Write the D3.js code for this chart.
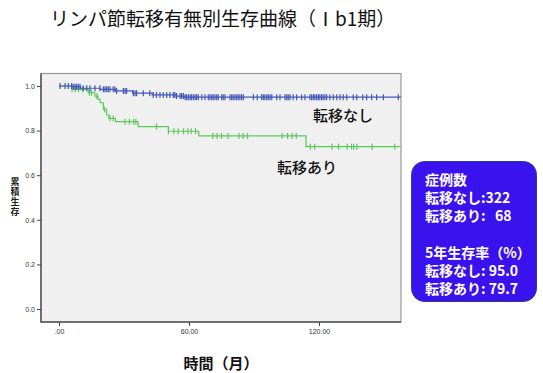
<!DOCTYPE html>
<html>
<head>
<meta charset="utf-8">
<script src="https://cdn.jsdelivr.net/npm/d3@7"></script>
<style>
  body { margin: 0; background: #fff; }
  text { font-family: "Noto Sans CJK JP", "Noto Sans", sans-serif; }
  .tick text { font-family: "Liberation Sans", Arial, sans-serif; font-size: 7px; fill: #333; }
</style>
</head>
<body>
<div id="chart"></div>
<script>
// step times (months) and survival after each drop
const noMetTimes = [6, 10, 19, 26, 34, 43, 54, 58];
const noMetSurv  = [0.997, 0.99, 0.985, 0.978, 0.968, 0.96, 0.955, 0.95];
const metTimes = [6, 13.5, 16.5, 18, 19, 20.5, 22, 23, 26, 36.5, 50.5, 64.5, 114];
const metSurv  = [0.985, 0.97, 0.955, 0.94, 0.925, 0.895, 0.87, 0.855, 0.84, 0.818, 0.797, 0.776, 0.728];

// censored observations (months)
const noMetCensor = [0.5, 2.8, 4.3, 5.8, 6.6, 7.4, 8.1, 8.9, 9.7, 11.2, 12.8, 14.3, 16.6, 18.9, 20.5, 21.2,
  22, 22.7, 23.5, 25, 25.8, 26.6, 29.7, 30.5, 31.2, 34.3, 35.1, 35.8, 38.9, 41.9, 43.5, 45, 46.6, 48.1,
  49.7, 51.2, 52.8, 53.5, 54.3, 55.9, 56.6, 57.4, 58.2, 58.9, 59.7, 60.5, 61.2, 62, 62.8, 63.5, 64.3,
  65.9, 67.4, 68.9, 69.7, 70.5, 71.2, 72, 72.8, 73.5, 75.1, 75.8, 76.6, 78.9, 79.7, 80.4, 81.2, 82, 82.7,
  83.5, 84.3, 85.1, 89.7, 91.5, 93.5, 94.3, 95, 95.9, 96.6, 97.4, 98.2, 100.5, 102, 104.3, 105.1, 105.8,
  106.6, 108.1, 109.7, 112, 113.5, 115.8, 116.6, 117.4, 118.1, 118.9, 119.7, 120.4, 121.2, 121.9, 122.7,
  123.5, 125, 126.6, 128.2, 129.7, 131.2, 132.8, 135.8, 137.4, 140.2, 142, 144.3, 146.6, 149.7, 156.6];
const metCensor = [6, 7.5, 9, 11, 14, 15, 17.5, 21, 23.5, 25, 30.5, 32.5, 34.5, 35.5, 45, 50.5, 53, 55,
  57.5, 59.5, 61, 63, 71, 73, 75, 78, 83, 85, 87, 103, 105.5, 107.5, 109.5, 116, 118, 126, 129, 133,
  135, 136, 137.5, 144.5, 155];

const yTicks = [0, 0.2, 0.4, 0.6, 0.8, 1.0];
const xTicks = [0, 60, 120];
const boxLines = ["症例数", "転移なし:322", "転移あり:\u00a0\u00a0 68", "", "5年生存率（%）", "転移なし: 95.0", "転移あり: 79.7"];

const width = 543, height = 373;
const frame = { left: 41, right: 401, top: 73.5, bottom: 322 };

const svg = d3.select("#chart").append("svg")
  .attr("width", width).attr("height", height);

const x = d3.scaleLinear().domain([0, 120]).range([59, 319]);
const y = d3.scaleLinear().domain([0, 1]).range([309, 86]);

// title
svg.append("text")
  .attr("x", 50).attr("y", 26)
  .style("font-size", "19px").style("fill", "#111")
  .text("リンパ節転移有無別生存曲線（Ⅰb1期）");

// plot frame
svg.append("rect")
  .attr("x", frame.left).attr("y", frame.top)
  .attr("width", frame.right - frame.left).attr("height", frame.bottom - frame.top)
  .attr("fill", "#f0f0f0").attr("stroke", "#999").attr("stroke-width", 1.2);
svg.append("path")
  .attr("d", `M${frame.left},${frame.top}V${frame.bottom}H${frame.right}`)
  .attr("fill", "none").attr("stroke", "#555").attr("stroke-width", 1.5);

// axes
svg.append("g")
  .attr("transform", `translate(${frame.left},0)`)
  .call(d3.axisLeft(y).tickValues(yTicks).tickFormat(d3.format(".1f")).tickSize(4).tickPadding(2))
  .call(g => g.select(".domain").remove())
  .call(g => g.selectAll("line").attr("stroke", "#444"));

svg.append("g")
  .attr("transform", `translate(0,${frame.bottom})`)
  .call(d3.axisBottom(x).tickValues(xTicks).tickFormat(d => d === 0 ? ".00" : d.toFixed(2)).tickSize(4).tickPadding(3))
  .call(g => g.select(".domain").remove())
  .call(g => g.selectAll("line").attr("stroke", "#444"));

// survival curves
function stepPoints(times, surv, end) {
  const pts = [{ t: 0, s: 1 }];
  times.forEach((t, i) => pts.push({ t: t, s: surv[i] }));
  pts.push({ t: end, s: surv[surv.length - 1] });
  return pts;
}
function survAt(times, surv, t) {
  const i = d3.bisectRight(times, t);
  return i === 0 ? 1 : surv[i - 1];
}

const line = d3.line().x(d => x(d.t)).y(d => y(d.s)).curve(d3.curveStepAfter);

const groups = [
  { times: metTimes, surv: metSurv, censor: metCensor, end: 157.8, color: "#5cc95c" },
  { times: noMetTimes, surv: noMetSurv, censor: noMetCensor, end: 157.8, color: "#4257b8" }
];

groups.forEach(gr => {
  svg.append("path")
    .datum(stepPoints(gr.times, gr.surv, gr.end))
    .attr("d", line)
    .attr("fill", "none").attr("stroke", gr.color).attr("stroke-width", 1.2);
  svg.append("g").selectAll("line")
    .data(gr.censor)
    .join("line")
    .attr("x1", d => x(d)).attr("x2", d => x(d))
    .attr("y1", d => y(survAt(gr.times, gr.surv, d)) - 3)
    .attr("y2", d => y(survAt(gr.times, gr.surv, d)) + 3)
    .attr("stroke", gr.color).attr("stroke-width", 1.2);
});

// curve labels
svg.append("text").attr("x", 313).attr("y", 121)
  .style("font-size", "15px").style("font-weight", "500").style("fill", "#111").text("転移なし");
svg.append("text").attr("x", 277).attr("y", 173)
  .style("font-size", "15px").style("font-weight", "500").style("fill", "#111").text("転移あり");

// y axis title, vertical writing
svg.append("text")
  .attr("x", 15).attr("y", 197)
  .attr("text-anchor", "middle")
  .style("writing-mode", "vertical-rl")
  .style("letter-spacing", "1px")
  .style("font-size", "9px").style("font-weight", "bold").style("fill", "#222")
  .text("累積生存");

// x axis title
svg.append("text")
  .attr("x", 221).attr("y", 369)
  .attr("text-anchor", "middle")
  .style("font-size", "15px").style("font-weight", "bold").style("fill", "#111")
  .text("時間（月）");

// info box
svg.append("rect")
  .attr("x", 411.5).attr("y", 161.5).attr("width", 125).attr("height", 140)
  .attr("rx", 13).attr("ry", 13)
  .attr("fill", "#3a12ee").attr("stroke", "#2c3d8c").attr("stroke-width", 1);

svg.append("g").selectAll("text")
  .data(boxLines)
  .join("text")
  .attr("x", 425)
  .attr("y", (d, i) => 185 + i * 18.2)
  .style("font-size", "14px").style("font-weight", "bold").style("fill", "#fff")
  .text(d => d);
</script>
</body>
</html>
